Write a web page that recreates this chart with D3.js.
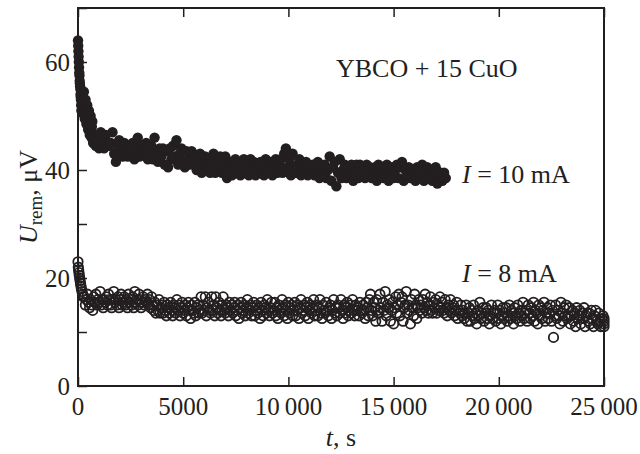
<!DOCTYPE html>
<html>
<head>
<meta charset="utf-8">
<script src="https://cdn.jsdelivr.net/npm/d3@7"></script>
<style>
  body { margin: 0; background: #fff; }
  svg text { font-family: "Liberation Serif", "Times New Roman", serif; fill: #231f20; }
</style>
</head>
<body>
<div id="container"></div>
<script>
// I = 10 mA, first seconds (fine sampling)
var early10T = [0, 10, 20, 30, 40, 50, 60, 70, 80, 90, 100, 110, 120, 130, 140, 150, 160, 170, 180, 200, 220, 240, 260, 280, 300, 320, 340, 360, 380, 400, 420, 440, 460, 480, 500, 520, 540, 560, 580, 600, 620, 640, 660, 680, 700, 720];
var early10V = [64, 63, 62, 61, 60, 59, 58, 57.5, 56.5, 56, 55.5, 55, 54, 53.5, 53, 52, 51, 53, 54.5, 52, 53.5, 50.5, 52.5, 54.5, 51, 49.5, 51.5, 53, 50, 48.5, 50.5, 52, 49, 47.5, 50, 51, 48, 46.5, 49, 50, 47, 46, 48, 49, 46.5, 45];

// I = 10 mA, from 760 s, one point every 80 s
var start10 = 760, step10 = 80;
var main10 = [
  46.5, 44.5, 45.5, 44, 47, 45, 44, 46.5, 45, 44.5,
  45, 47, 43, 41.5, 44.5, 45.5, 43, 42.5, 45, 44,
  42.5, 44.5, 43, 45, 42, 43.5, 46, 42.5, 44.5, 43,
  43.5, 45, 42, 43, 44.5, 42, 46, 43, 41.5, 44,
  42.5, 44, 41, 43.5, 40.5, 44, 42, 44.5, 42.5, 45.5,
  41, 43, 44, 41.5, 40.5, 43.5, 42, 41, 43.5, 42,
  42.5, 40, 41.5, 43, 39.5, 41, 42.5, 40.5, 42, 39.5,
  41, 43, 39.5, 41.5, 40.5, 42.5, 39.5, 41, 42.5, 38.5,
  40, 41.5, 39, 41, 42, 39.5, 40.5, 39, 41.5, 42,
  39.5, 41, 39, 42, 40, 41.5, 39, 40.5, 39.5, 41.5,
  40.5, 39, 42, 39.5, 41, 41.5, 39, 40, 42, 39.5,
  41, 42, 39.5, 43, 44, 40.5, 42, 39, 43, 40.5,
  39.5, 41, 42, 39, 40.5, 40, 41.5, 39, 40.5, 39.5,
  41, 39, 40, 41.5, 38.5, 40.5, 39.5, 41, 38.5, 40,
  42.5, 38, 40.5, 41.5, 37, 39.5, 42, 38.5, 40, 41,
  38.5, 40.5, 39.5, 41, 38, 40, 41, 38.5, 41, 39,
  40, 38.5, 41, 39, 40.5, 38.5, 40, 40.5, 38, 41,
  39, 40.5, 38.5, 40, 41, 38, 39.5, 40.5, 38.5, 40,
  41, 38.5, 40.5, 41.5, 38, 40, 39, 40.5, 38.5, 40,
  39.5, 38, 40.5, 38.5, 39.5, 41, 38, 39, 40.5, 38.5,
  40, 38, 39, 40.5, 37.5, 38.5, 39.5, 38, 39.5, 38.5
];

// I = 8 mA, first seconds
var early8T = [0, 15, 30, 45, 60, 80, 100, 120, 140, 160, 190, 220, 250];
var early8V = [23, 22, 21.5, 21, 20.5, 20, 19.5, 19, 18.5, 18, 17.5, 17, 16.5];

// I = 8 mA, from 300 s, one point every 50 s (20 per row = 1000 s)
var start8 = 300, step8 = 50;
var main8 = [
  16.5, 15, 16, 17, 15.5, 14.5, 16, 15, 14, 16.5, 15.5, 17, 15, 16, 15.5, 17.5, 15, 16, 14.5, 16,
  15.5, 16.5, 15, 17, 16, 15, 14.5, 16, 17.5, 15.5, 16, 15, 16.5, 14.5, 16, 17, 15, 15.5, 16.5, 15,
  16, 14.5, 17, 15.5, 16, 15, 16.5, 14.5, 17.5, 15.5, 16, 15, 17, 16, 14.5, 15.5, 16.5, 15, 16, 15.5,
  17, 15, 16, 14.5, 16.5, 15, 14, 15.5, 13.5, 15, 14, 16, 13.5, 14.5, 15, 13.5, 15.5, 14, 13, 15,
  14.5, 13.5, 15.5, 14, 13, 15, 14.5, 13.5, 16, 14, 15, 13, 14.5, 15.5, 13.5, 14, 15, 13, 14.5, 15.5,
  14, 12.5, 15, 14, 13.5, 15.5, 13, 14.5, 15, 13.5, 14, 16.5, 13.5, 15, 14, 16.5, 13, 14.5, 15.5, 14,
  13.5, 16.5, 14, 15, 13, 16.5, 14.5, 13.5, 15.5, 14, 13, 15, 16.5, 14, 13.5, 15, 14.5, 13, 15.5, 14,
  15, 13.5, 14.5, 15.5, 13, 14, 15, 12.5, 14.5, 15.5, 13.5, 14, 15, 13, 14.5, 16, 13.5, 14, 15, 13,
  14.5, 15.5, 13, 14, 15, 13.5, 14.5, 12.5, 15.5, 14, 13, 15, 14.5, 13.5, 16, 14, 13, 14.5, 15.5, 13.5,
  14, 15.5, 13, 14.5, 12.5, 15, 14, 13.5, 16, 14.5, 13, 15, 14, 12.5, 15.5, 13.5, 14.5, 15, 13, 14,
  15.5, 13, 14, 15, 12.5, 14.5, 16, 13.5, 14, 15, 13, 14.5, 15.5, 12.5, 14, 15, 13.5, 14.5, 16, 13,
  14, 15, 13, 14.5, 16, 13.5, 12.5, 15, 14, 13.5, 15.5, 14, 13, 14.5, 15, 12.5, 14, 16, 13.5, 14.5,
  13, 15, 14.5, 13.5, 16, 14, 12.5, 15, 13.5, 14.5, 15.5, 13, 14, 15, 13.5, 16, 14, 13, 15, 14,
  14.5, 13, 15.5, 14, 13.5, 15, 14, 12.5, 15.5, 14.5, 13, 16, 17, 14, 13, 15.5, 14.5, 12, 16, 14,
  13.5, 17, 14.5, 12, 15.5, 14, 17.5, 13, 15, 14.5, 16, 12, 14, 15.5, 11.5, 14.5, 16.5, 13.5, 15, 17,
  13, 15.5, 16.5, 12, 14.5, 15, 17.5, 13.5, 15, 14, 11.5, 16, 14.5, 13, 17, 15, 12.5, 14.5, 16, 14,
  15, 13.5, 16, 14.5, 17, 14, 15.5, 13.5, 15, 16.5, 14, 13.5, 15.5, 14.5, 16, 13.5, 15, 14, 16.5, 14.5,
  15.5, 14, 13.5, 16, 14.5, 13, 15, 14, 16, 13.5, 14.5, 15, 13, 14, 15.5, 12.5, 14, 13.5, 15, 13,
  14, 12.5, 13.5, 15, 12, 13.5, 14.5, 12, 14, 13, 15, 12.5, 13.5, 11.5, 14, 13, 15.5, 12.5, 13.5, 14.5,
  12, 13.5, 14.5, 12.5, 14, 11.5, 13, 15, 12.5, 13.5, 14, 12, 13.5, 15, 12.5, 14, 11.5, 13, 14.5, 12.5,
  13.5, 14.5, 12, 13, 15, 12.5, 14, 13.5, 11.5, 14.5, 13, 12.5, 15, 13.5, 12, 14, 13, 15.5, 12.5, 13.5,
  14, 12, 15, 13.5, 12.5, 14.5, 13, 15.5, 12, 14, 13.5, 11.5, 15, 13, 14.5, 12.5, 14, 15.5, 12, 13.5,
  14.5, 12.5, 13.5, 15, 12, 14, 9, 13, 15, 12.5, 14, 13, 11.5, 15.5, 13.5, 12, 14.5, 13, 15, 12.5,
  13, 14.5, 11.5, 13, 14, 12, 13.5, 11, 14.5, 12.5, 13, 14, 11.5, 13.5, 12.5, 14.5, 11, 13, 13.5, 12,
  13.5, 11.5, 14, 12.5, 11, 13, 14, 12, 11.5, 13.5, 12, 11, 12.5, 13
];
// last readings at 25000 s
var end8T = 25000;
var end8V = [12.5, 12, 11.5, 11];

var xTicks = [0, 5000, 10000, 15000, 20000, 25000];
var yTicks = [0, 10, 20, 30, 40, 50, 60, 70];
var yLabels = [0, 20, 40, 60];

function draw(){
	var width = 640, height = 454;
	var left = 78, right = 604, top = 8, bottom = 386;

	var svg = d3.select('#container').append('svg')
		.attr('width', width)
		.attr('height', height);

	var x = d3.scaleLinear().domain([0, 25000]).range([left, right]);
	var y = d3.scaleLinear().domain([0, 70]).range([bottom, top]);

	var s10 = [];
	early10T.forEach((t, i) => s10.push([t, early10V[i]]));
	main10.forEach((v, i) => s10.push([start10 + i * step10, v]));

	var s8 = [];
	early8T.forEach((t, i) => s8.push([t, early8V[i]]));
	main8.forEach((v, i) => s8.push([start8 + i * step8, v]));
	end8V.forEach(v => s8.push([end8T, v]));

	// open circles, 8 mA (no fill, outlines pile up into a dark band)
	svg.append('g').selectAll('circle')
		.data(s8)
		.enter().append('circle')
		.attr('cx', d => x(d[0]))
		.attr('cy', d => y(d[1]))
		.attr('r', 4.7)
		.attr('fill', 'none')
		.attr('stroke', '#231f20')
		.attr('stroke-width', 1.8);

	// filled circles, 10 mA
	svg.append('g').selectAll('circle')
		.data(s10)
		.enter().append('circle')
		.attr('cx', d => x(d[0]))
		.attr('cy', d => y(d[1]))
		.attr('r', 5.2)
		.attr('fill', '#231f20');

	// frame
	svg.append('rect')
		.attr('x', left).attr('y', top)
		.attr('width', right - left).attr('height', bottom - top)
		.attr('fill', 'none')
		.attr('stroke', '#231f20')
		.attr('stroke-width', 2);

	// inside ticks
	var tk = 9;
	var bottomAxis = d3.axisBottom(x).tickValues(xTicks).tickSize(-tk).tickFormat('');
	var topAxis = d3.axisTop(x).tickValues(xTicks).tickSize(-tk).tickFormat('');
	var leftAxis = d3.axisLeft(y).tickValues(yTicks).tickSize(-tk).tickFormat('');

	[[bottomAxis, 'translate(0,' + bottom + ')'], [topAxis, 'translate(0,' + top + ')'], [leftAxis, 'translate(' + left + ',0)']].forEach(a => {
		var g = svg.append('g').attr('transform', a[1]).call(a[0]);
		g.select('.domain').remove();
		g.selectAll('line').attr('stroke', '#231f20').attr('stroke-width', 1.5);
	});

	// tick labels
	var fmt = v => {
		var s = String(v);
		return s.length > 4 ? s.slice(0, s.length - 3) + '\u2009' + s.slice(-3) : s;
	};

	svg.append('g').selectAll('text')
		.data(xTicks)
		.enter().append('text')
		.attr('x', d => x(d))
		.attr('y', 415)
		.attr('text-anchor', 'middle')
		.style('font-size', '25px')
		.text(fmt);

	svg.append('g').selectAll('text')
		.data(yLabels)
		.enter().append('text')
		.attr('x', 70)
		.attr('y', d => y(d) + 8.5)
		.attr('text-anchor', 'end')
		.style('font-size', '25px')
		.text(d => d);

	// axis titles
	var xt = svg.append('text')
		.attr('x', (left + right) / 2)
		.attr('y', 446)
		.attr('text-anchor', 'middle')
		.style('font-size', '26px');
	xt.append('tspan').style('font-style', 'italic').text('t');
	xt.append('tspan').text(', s');

	var yt = svg.append('text')
		.attr('transform', 'translate(37,' + (top + bottom) / 2 + ') rotate(-90)')
		.attr('text-anchor', 'middle')
		.style('font-size', '26px');
	yt.append('tspan').style('font-style', 'italic').text('U');
	yt.append('tspan').attr('dy', 5).style('font-size', '19px').text('rem');
	yt.append('tspan').attr('dy', -5).text(', \u03bcV');

	// annotations
	svg.append('text')
		.attr('x', 336).attr('y', 77)
		.style('font-size', '26px')
		.text('YBCO + 15 CuO');

	var l10 = svg.append('text')
		.attr('x', 462).attr('y', 183)
		.style('font-size', '26px');
	l10.append('tspan').style('font-style', 'italic').text('I');
	l10.append('tspan').text(' = 10 mA');

	var l8 = svg.append('text')
		.attr('x', 462).attr('y', 282)
		.style('font-size', '26px');
	l8.append('tspan').style('font-style', 'italic').text('I');
	l8.append('tspan').text(' = 8 mA');
}

draw();
</script>
</body>
</html>
